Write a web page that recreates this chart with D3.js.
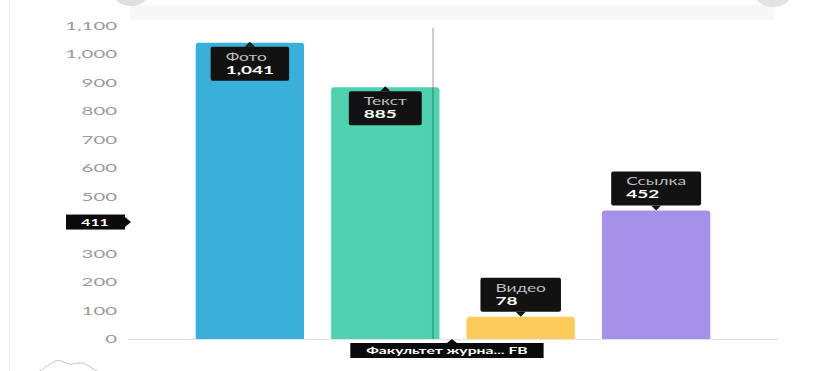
<!DOCTYPE html>
<html>
<head>
<meta charset="utf-8">
<script src="https://cdn.jsdelivr.net/npm/d3@7"></script>
<style>
  html, body { margin: 0; padding: 0; background: #fff; }
  svg { display: block; font-family: Lato, sans-serif; }
</style>
</head>
<body>
<div id="chart"></div>
<script>
const categories = ['Фото', 'Текст', 'Видео', 'Ссылка']
const values = [1041, 885, 78, 452]
const colors = ['#3aafd9', '#4fd2b0', '#fdca5c', '#a591e9']
const tooltipInside = [true, true, false, false]
const yTicks = [0, 100, 200, 300, 400, 500, 600, 700, 800, 900, 1000, 1100]
const hover = { category: 'Текст', offset: 0.94, value: 411, label: 'Факультет журна... FB' }
const navigator = [0, 3, 7, 10, 9, 6, 7, 8, 6, 2, 0]

const width = 814
const height = 371
const margin = { left: 128, right: 36, top: 26, bottom: 32 }
const stretchK = 1.65

const svg = d3.select('#chart')
  .append('svg')
  .attr('width', width)
  .attr('height', height)

const x = d3.scaleBand()
  .domain(categories)
  .range([margin.left, width - margin.right])
  .paddingInner(0.2)
  .paddingOuter(0.5)

const y = d3.scaleLinear()
  .domain([0, 1100])
  .range([height - margin.bottom, margin.top])

// stretch text horizontally like the screenshot
const stretch = (sel, k) => sel.each(function () {
  const w = this.getComputedTextLength()
  d3.select(this).attr('textLength', w * k).attr('lengthAdjust', 'spacingAndGlyphs')
})

// left frame line
svg.append('line')
  .attr('x1', 9.5).attr('x2', 9.5)
  .attr('y1', 0).attr('y2', height)
  .attr('stroke', '#eeeeee')

// top scroll band
svg.append('rect')
  .attr('x', 130).attr('y', 5)
  .attr('width', 645).attr('height', 15)
  .attr('fill', '#f7f7f7')
svg.append('ellipse')
  .attr('cx', 131).attr('cy', -6).attr('rx', 17).attr('ry', 12)
  .attr('fill', '#e0e0e0')
svg.append('ellipse')
  .attr('cx', 773).attr('cy', -4).attr('rx', 17).attr('ry', 11)
  .attr('fill', '#e4e4e4')

// baseline
svg.append('line')
  .attr('x1', margin.left).attr('x2', width - margin.right)
  .attr('y1', y(0) + 0.5).attr('y2', y(0) + 0.5)
  .attr('stroke', '#e3e3e3')

// y axis
const yAxis = svg.append('g')
  .attr('class', 'y-axis')
  .attr('transform', `translate(${margin.left}, 0)`)
  .call(d3.axisLeft(y)
    .tickValues(yTicks.filter(d => Math.abs(y(d) - y(hover.value)) > 12))
    .tickSize(0)
    .tickPadding(11)
    .tickFormat(d3.format(',')))

yAxis.select('.domain').remove()
yAxis.selectAll('text')
  .attr('font-family', 'Lato, sans-serif')
  .attr('font-size', 11)
  .attr('fill', '#9a9a9a')
  .call(stretch, 1.85)

// bars with rounded tops
const barPath = (x0, w, y0, y1, r) => `M${x0},${y1}V${y0 + r}Q${x0},${y0} ${x0 + r},${y0}H${x0 + w - r}Q${x0 + w},${y0} ${x0 + w},${y0 + r}V${y1}Z`

const data = categories.map((c, i) => ({ name: c, value: values[i], color: colors[i], inside: tooltipInside[i] }))

svg.append('g')
  .attr('class', 'bars')
  .selectAll('path')
  .data(data)
  .join('path')
  .attr('d', d => barPath(x(d.name), x.bandwidth(), y(d.value), y(0), 3))
  .attr('fill', d => d.color)

// crosshair
const hx = x(hover.category) + x.bandwidth() * hover.offset
svg.append('line')
  .attr('x1', hx).attr('x2', hx)
  .attr('y1', y(1100) + 2).attr('y2', y(0))
  .attr('stroke', '#000')
  .attr('stroke-opacity', 0.2)
  .attr('stroke-width', 2)

// bar tooltips
const tips = svg.append('g').attr('class', 'tips')
data.forEach(d => {
  const g = tips.append('g')
  const cx = x(d.name) + x.bandwidth() / 2
  const boxH = 34
  const top = d.inside ? y(d.value) + 4 : y(d.value) - 5 - boxH

  const rect = g.append('rect').attr('fill', '#121212').attr('rx', 2)
  const arrow = g.append('path').attr('fill', '#121212')

  const t1 = g.append('text')
    .attr('y', top + 14)
    .attr('font-size', 10.5)
    .attr('fill', '#bdbdbd')
    .text(d.name)
    .call(stretch, stretchK)
  const t2 = g.append('text')
    .attr('y', top + 27)
    .attr('font-size', 11.5)
    .attr('font-weight', 700)
    .attr('fill', '#fff')
    .text(d3.format(',')(d.value))
    .call(stretch, stretchK)

  const tw = Math.max(+t1.attr('textLength'), +t2.attr('textLength'))
  const boxW = tw + 30
  const left = cx - boxW / 2
  t1.attr('x', left + 15)
  t2.attr('x', left + 15)
  rect.attr('x', left).attr('y', top).attr('width', boxW).attr('height', boxH)
  arrow.attr('d', d.inside
    ? `M${cx - 5},${top}L${cx},${top - 5}L${cx + 5},${top}Z`
    : `M${cx - 5},${top + boxH}L${cx},${top + boxH + 5}L${cx + 5},${top + boxH}Z`)
})

// y value tooltip
const yy = y(hover.value)
const yTip = svg.append('g')
yTip.append('rect')
  .attr('x', 66).attr('y', yy - 7.5)
  .attr('width', 59).attr('height', 15)
  .attr('fill', '#0a0a0a')
yTip.append('path')
  .attr('d', `M125,${yy - 5}L131,${yy}L125,${yy + 5}Z`)
  .attr('fill', '#0a0a0a')
yTip.append('text')
  .attr('x', 95).attr('y', yy + 3.5)
  .attr('text-anchor', 'middle')
  .attr('font-size', 9.5)
  .attr('font-weight', 700)
  .attr('fill', '#fff')
  .text(hover.value)
  .call(stretch, stretchK)

// x label tooltip
const ax = hx + 19
const xTip = svg.append('g')
const xText = xTip.append('text')
  .attr('y', y(0) + 15)
  .attr('font-size', 9.5)
  .attr('font-weight', 700)
  .attr('fill', '#fff')
  .text(hover.label)
  .call(stretch, stretchK)
const xw = +xText.attr('textLength') + 32
const xl = ax - xw / 2 - 5
xTip.insert('rect', 'text')
  .attr('x', xl).attr('y', y(0) + 4)
  .attr('width', xw).attr('height', 15)
  .attr('fill', '#0a0a0a')
xTip.insert('path', 'text')
  .attr('d', `M${ax - 5},${y(0) + 4}L${ax},${y(0)}L${ax + 5},${y(0) + 4}Z`)
  .attr('fill', '#0a0a0a')
xText.attr('x', xl + 16)

// navigator sparkline bottom-left
const nx = d3.scaleLinear().domain([0, navigator.length - 1]).range([38, 100])
const ny = d3.scaleLinear().domain([0, 10]).range([372, 360])
svg.append('path')
  .datum(navigator)
  .attr('d', d3.line().x((d, i) => nx(i)).y(d => ny(d)).curve(d3.curveBasis))
  .attr('fill', 'none')
  .attr('stroke', '#c4c4c4')
  .attr('stroke-width', 1)
</script>
</body>
</html>
